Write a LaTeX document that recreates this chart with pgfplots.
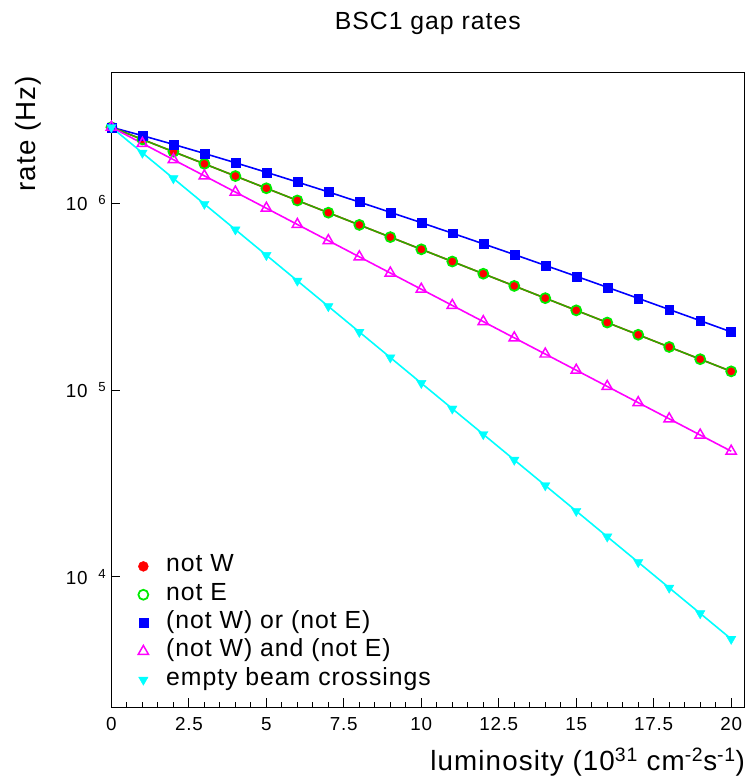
\documentclass[border=0pt]{standalone}
\usepackage{fontspec}
\setmainfont[LetterSpace=4]{Liberation Sans}
\setsansfont[LetterSpace=4]{Liberation Sans}
\usepackage{pgfplots}
\usepackage{pgfplotstable}
\pgfplotsset{compat=1.18}
\definecolor{rootred}{RGB}{255,0,0}
\definecolor{rootgreen}{RGB}{0,235,0}
\definecolor{fitgreen}{RGB}{45,170,0}
\definecolor{rootblue}{RGB}{0,0,255}
\definecolor{rootmag}{RGB}{255,0,255}
\definecolor{rootcyan}{RGB}{0,255,255}

% x  notW  notE  or  and  empty
\pgfplotstableread{
x  notw     note     orr      andd     empty
0  2.550e6  2.550e6  2.550e6  2.550e6  2.550e6
1  2.194e6  2.194e6  2.299e6  2.089e6  1.860e6
2  1.887e6  1.887e6  2.064e6  1.710e6  1.357e6
3  1.624e6  1.624e6  1.846e6  1.401e6  9.900e5
4  1.397e6  1.397e6  1.646e6  1.147e6  7.222e5
5  1.202e6  1.202e6  1.464e6  9.397e5  5.268e5
6  1.034e6  1.034e6  1.298e6  7.696e5  3.843e5
7  8.894e5  8.894e5  1.149e6  6.303e5  2.804e5
8  7.652e5  7.652e5  1.014e6  5.162e5  2.045e5
9  6.583e5  6.583e5  8.938e5  4.228e5  1.492e5
10 5.663e5  5.663e5  7.864e5  3.462e5  1.088e5
11 4.872e5  4.872e5  6.908e5  2.836e5  7.941e4
12 4.191e5  4.191e5  6.059e5  2.323e5  5.794e4
13 3.606e5  3.606e5  5.310e5  1.902e5  4.225e4
14 3.102e5  3.102e5  4.646e5  1.558e5  3.083e4
15 2.669e5  2.669e5  4.062e5  1.276e5  2.249e4
16 2.296e5  2.296e5  3.547e5  1.045e5  1.640e4
17 1.975e5  1.975e5  3.094e5  8.558e4  1.197e4
18 1.699e5  1.699e5  2.697e5  7.010e4  8.731e3
19 1.462e5  1.462e5  2.350e5  5.740e4  6.370e3
20 1.258e5  1.258e5  2.046e5  4.702e4  4.646e3
}\gaprates

\begin{document}
\begin{tikzpicture}
\path[use as bounding box] (-112bp,-73bp) rectangle (637bp,711bp);
\begin{axis}[
  at={(0,0)}, anchor=south west,
  scale only axis, width=636bp, height=638bp,
  ymode=log, log basis y=10,
  xmin=0, xmax=20.42, ymin=2000, ymax=5e6,
  xtick={0,2.5,...,20}, minor x tick num=4,
  xticklabels={0,2.5,5,7.5,10,12.5,15,17.5,20},
  ytick={1e4,1e5,1e6},
  yticklabels={10\hspace{11bp}\textsuperscript{4},10\hspace{11bp}\textsuperscript{5},10\hspace{11bp}\textsuperscript{6}},
  tick pos=left, tick align=inside,
  major tick length=9bp, minor tick length=5bp,
  every tick/.style={black, line width=0.9bp},
  axis line style={line width=1.2bp},
  /pgf/number format/assume math mode=true,
  tick label style={font=\fontsize{19}{21}\selectfont},
  xticklabel style={inner sep=0pt, yshift=-10bp},
  yticklabel style={inner sep=0pt, xshift=-5bp},
  clip=false,
  legend style={draw=none, fill=none, at={(0,0)}, anchor=south west,
    xshift=24bp, yshift=18bp, font=\fontsize{25}{27}\selectfont,
    row sep=9.5bp, inner sep=0pt,
    nodes={text height=15bp, text depth=4bp, inner sep=0pt},
    cells={anchor=west}},
  legend image code/.code={\draw[#1] plot coordinates {(7bp,0bp)};
    \path (0bp,0bp) (29bp,0bp);},
]
% fitted lines
\addplot[rootblue, line width=1.6bp, no marks, forget plot] table[x=x, y=orr] {\gaprates};
\addplot[rootred, line width=1.6bp, no marks, forget plot] table[x=x, y=notw] {\gaprates};
\addplot[fitgreen, line width=1.6bp, no marks, forget plot] table[x=x, y=note] {\gaprates};
\addplot[rootmag, line width=1.6bp, no marks, forget plot] table[x=x, y=andd] {\gaprates};
\addplot[rootcyan, line width=1.6bp, no marks, forget plot] table[x=x, y=empty] {\gaprates};
% points
\addplot[only marks, mark=*, mark size=5bp, rootred] table[x=x, y=notw] {\gaprates};
\addlegendentry{not W}
\addplot[only marks, mark=o, mark size=5bp, rootgreen, line width=1.8bp] table[x=x, y=note] {\gaprates};
\addlegendentry{not E}
\addplot[only marks, mark=square*, mark size=4.5bp, rootblue] table[x=x, y=orr] {\gaprates};
\addlegendentry{(not W) or (not E)}
\addplot[only marks, mark=triangle, mark size=6bp, rootmag, line width=1.5bp] table[x=x, y=andd] {\gaprates};
\addlegendentry{(not W) and (not E)}
\addplot[only marks, mark=triangle*, mark size=5.5bp, rootcyan, mark options={rotate=180}] table[x=x, y=empty] {\gaprates};
\addlegendentry{empty beam crossings}
% titles
\node[font=\fontsize{25}{27}\selectfont, anchor=center] at ([yshift=49bp]rel axis cs:0.5,1) {BSC1 gap rates};
\node[font=\fontsize{28}{30}\selectfont, rotate=90, anchor=east, inner sep=0pt] at ([xshift=-84bp, yshift=-3bp]rel axis cs:0,1) {rate (Hz)};
\node[font=\fontsize{28}{30}\selectfont, anchor=east, inner sep=0pt] at ([xshift=1bp, yshift=-55bp]rel axis cs:1,0) {luminosity (10\textsuperscript{31} cm\textsuperscript{-2}s\textsuperscript{-1})};
\end{axis}
\end{tikzpicture}
\end{document}
